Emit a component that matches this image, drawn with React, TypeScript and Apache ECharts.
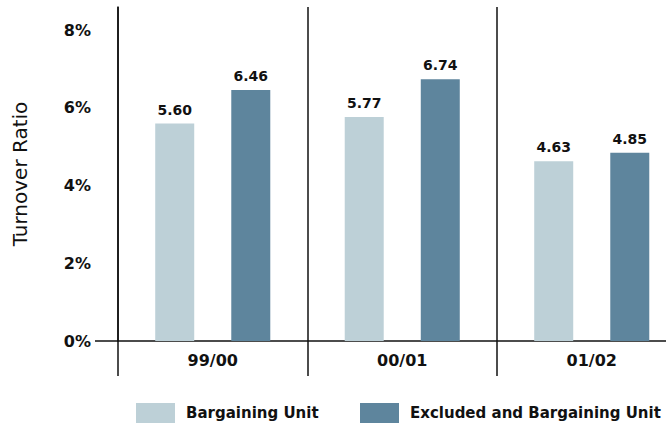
import React, { useEffect, useRef } from "react";
import * as echarts from "echarts";

const categories = ["99/00", "00/01", "01/02"];
const bargainingUnit = [5.6, 5.77, 4.63];
const excludedAndBargaining = [6.46, 6.74, 4.85];
const yTicks = [0, 2, 4, 6, 8];
const seriesNames = ["Bargaining Unit", "Excluded and Bargaining Unit"];

const LIGHT = "#BDD0D7";
const DARK = "#5E859D";
const INK = "#111111";
const FONT = "DejaVu Sans";

export default function App() {
  const ref = useRef<HTMLDivElement>(null);
  useEffect(() => {
    if (!ref.current) return;
    const chart = echarts.init(ref.current, undefined, { renderer: "svg" });
    const labelStyle = {
      show: true,
      position: "top" as const,
      distance: 7,
      color: INK,
      fontFamily: FONT,
      fontWeight: "bold" as const,
      fontSize: 14,
      formatter: (p: any) => Number(p.value).toFixed(2),
    };
    const legendText = { color: INK, fontFamily: FONT, fontWeight: "bold", fontSize: 15, padding: [0, 0, 0, 6] };
    chart.setOption({
      animation: false,
      backgroundColor: "#ffffff",
      grid: { left: 118, top: 7, width: 568.5, height: 334, containLabel: false },
      legend: [
        {
          left: 136,
          top: 403,
          padding: 0,
          data: [seriesNames[0]],
          itemWidth: 39,
          itemHeight: 20,
          icon: "rect",
          selectedMode: false,
          textStyle: legendText,
        },
        {
          left: 360,
          top: 403,
          padding: 0,
          data: [seriesNames[1]],
          itemWidth: 39,
          itemHeight: 20,
          icon: "rect",
          selectedMode: false,
          textStyle: legendText,
        },
      ],
      xAxis: {
        type: "category",
        data: categories,
        boundaryGap: true,
        axisLine: { show: true, lineStyle: { color: INK, width: 1.5 } },
        axisTick: { show: true, interval: 0, length: 35, lineStyle: { color: INK, width: 1.5 } },
        splitLine: { show: true, interval: 0, lineStyle: { color: INK, width: 1.5 } },
        axisLabel: {
          interval: 0,
          margin: 11,
          color: INK,
          fontFamily: FONT,
          fontWeight: "bold",
          fontSize: 16,
        },
      },
      yAxis: {
        type: "value",
        min: yTicks[0],
        max: 8.6,
        interval: 2,
        name: "Turnover Ratio",
        nameLocation: "middle",
        nameGap: 88,
        nameTextStyle: { color: INK, fontFamily: FONT, fontSize: 20, fontWeight: 500 },
        axisLine: { show: true, lineStyle: { color: INK, width: 1.5 } },
        axisTick: { show: false },
        splitLine: { show: false },
        axisLabel: {
          margin: 27,
          showMaxLabel: false,
          color: INK,
          fontFamily: FONT,
          fontWeight: "bold",
          fontSize: 16,
          formatter: (v: number) => (yTicks.includes(v) ? `${v}%` : ""),
        },
      },
      graphic: [
        {
          type: "line",
          shape: { x1: 95, y1: 341, x2: 118, y2: 341 },
          style: { stroke: INK, lineWidth: 1.5 },
          silent: true,
        },
      ],
      series: [
        {
          name: seriesNames[0],
          type: "bar",
          data: bargainingUnit,
          barWidth: 39,
          barGap: "95%",
          itemStyle: { color: LIGHT },
          label: labelStyle,
        },
        {
          name: seriesNames[1],
          type: "bar",
          data: excludedAndBargaining,
          barWidth: 39,
          barGap: "95%",
          itemStyle: { color: DARK },
          label: labelStyle,
        },
      ],
    });
    return () => chart.dispose();
  }, []);
  return (
    <div
      style={{
        position: "fixed",
        left: 0,
        top: 0,
        width: 666,
        height: 424,
        overflow: "hidden",
        background: "#fff",
      }}
    >
      <div ref={ref} style={{ width: 700, height: 424 }} />
    </div>
  );
}
